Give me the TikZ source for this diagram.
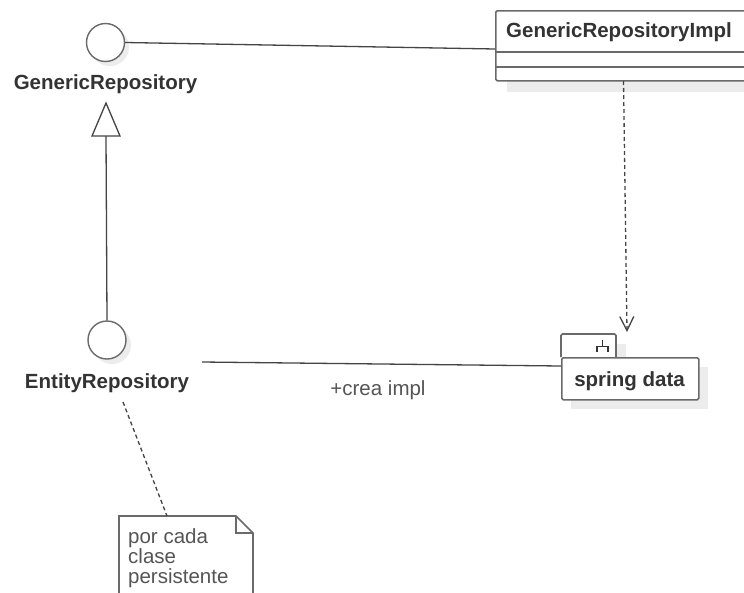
\documentclass[tikz,border=0pt]{standalone}
\usepackage{fontspec}
\setmainfont{Liberation Sans}
\usetikzlibrary{arrows.meta}
\definecolor{txt}{HTML}{333333}
\definecolor{gtxt}{HTML}{555555}
\definecolor{ln}{HTML}{6A6A6A}
\definecolor{conn}{HTML}{444444}
\definecolor{shd}{HTML}{ECECEC}
\tikzset{
  iface/.style={circle, draw=ln, line width=1.4pt, fill=white, minimum size=38pt, inner sep=0pt},
  ishadow/.style={circle, fill=shd, minimum size=38pt, inner sep=0pt},
  lbl/.style={font=\fontsize{20.5}{20}\selectfont\bfseries, text=txt, inner sep=0pt, anchor=base},
  plain/.style={font=\fontsize{20.5}{20}\selectfont, text=gtxt, inner sep=0pt},
  boxline/.style={draw=ln, line width=1.6pt, rounded corners=1.5pt},
  connline/.style={draw=conn, line width=1.3pt},
  dashline/.style={draw=conn, line width=1.3pt, dash pattern=on 4pt off 3pt},
}
\begin{document}
\begin{tikzpicture}[x=1pt,y=-1pt]
\useasboundingbox (0,0) rectangle (744,592);
\clip (0,0) rectangle (744,592);
\fill[white] (0,0) rectangle (744,592);

% shadows
\node[ishadow] at (110,47) {};
\node[ishadow] at (112,345) {};
\fill[shd] (507,22) rectangle (780,92);
\fill[shd] (571,344) rectangle (626,367);
\fill[shd] (571,367) rectangle (708,409);

% interfaces
\node[iface] (gr) at (105.5,42.5) {};
\node[lbl] (grl) at (105.5,89) {GenericRepository};
\node[iface] (er) at (107,340) {};
\node[lbl] (erl) at (107,388) {EntityRepository};

% GenericRepositoryImpl class
\node[boxline, fill=white, anchor=north west, minimum width=285pt, minimum height=70pt, inner sep=0pt] (impl) at (495,10) {};
\draw[draw=ln, line width=1.6pt] (495,52) -- (780,52);
\draw[draw=ln, line width=1.6pt] (495,67) -- (780,67);
\node[lbl, anchor=base west] (impll) at (506,37) {GenericRepositoryImpl};

% spring data package
\draw[boxline, fill=white] (561,357) |- (616,334) -- (616,357);
\node[boxline, fill=white, anchor=north west, minimum width=137pt, minimum height=42pt, inner sep=0pt] (pkg) at (561,357) {};
\draw[draw=txt, line width=1.4pt] (602.5,340) -- (602.5,346.5);
\draw[draw=txt, line width=1.4pt] (597,352) -- (597,346.5) -- (608,346.5) -- (608,352);
\node[lbl] (pkgl) at (629.5,386) {spring data};

% note
\coordinate (notetop) at (167,516);
\draw[boxline, fill=white, rounded corners=0pt] (119,600) -- (119,516) -- (236,516) -- (253,533) -- (253,600);
\draw[draw=ln, line width=1.4pt] (236,516) -- (236,533) -- (253,533);
\node[plain, anchor=base west] (n1) at (128,543) {por cada};
\node[plain, anchor=base west] (n2) at (128,563) {clase};
\node[plain, anchor=base west] (n3) at (128,583) {persistente};

% connectors
\coordinate (implL) at (495,49);
\draw[connline] (gr.east) -- (implL);
\coordinate (triA) at (106,103);
\coordinate (triB) at (106,136);
\draw[draw=conn, line width=1.3pt, fill=white] (triA) -- (92,136) -- (120,136) -- cycle;
\draw[connline] (triB) -- (er.north);
\coordinate (assocS) at (202,362);
\coordinate (assocE) at (561,366);
\draw[connline] (assocS) -- (assocE);
\node[plain] (assocl) at (378,390) {+crea impl};
\coordinate (depS) at (623.5,81);
\coordinate (depE) at (627,332);
\draw[dashline, -{Straight Barb[length=14pt, width=14pt, line width=1.3pt]}] (depS) -- (depE);
\coordinate (noteS) at (123,402);
\draw[dashline] (noteS) -- (notetop);
\end{tikzpicture}
\end{document}
